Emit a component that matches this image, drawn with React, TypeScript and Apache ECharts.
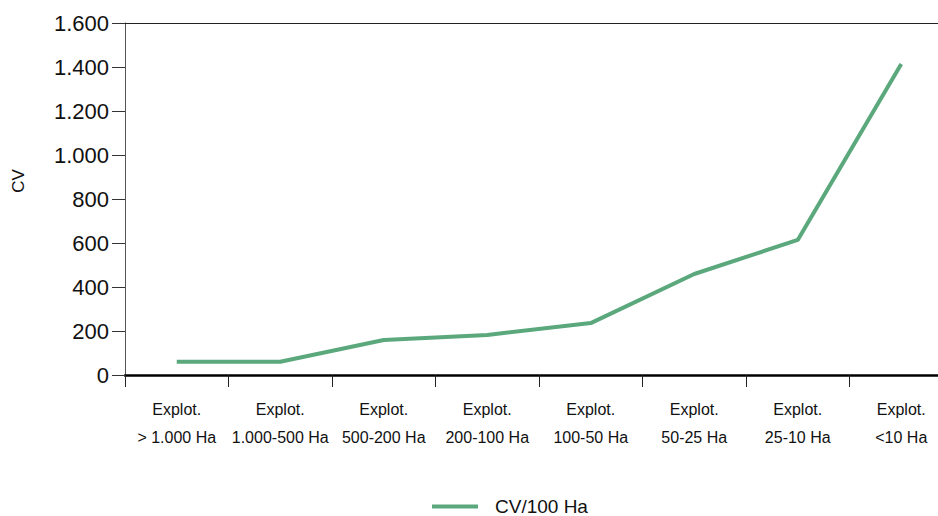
import React, { useEffect, useRef } from "react";
import * as echarts from "echarts";

const categories = [
  "Explot.\n> 1.000 Ha",
  "Explot.\n1.000-500 Ha",
  "Explot.\n500-200 Ha",
  "Explot.\n200-100 Ha",
  "Explot.\n100-50 Ha",
  "Explot.\n50-25 Ha",
  "Explot.\n25-10 Ha",
  "Explot.\n<10 Ha",
];
const seriesName = "CV/100 Ha";
const cvValues = [60, 60, 159, 182, 236, 459, 614, 1414];
const yAxisName = "CV";

const fmt = (v: number) => String(v).replace(/\B(?=(\d{3})+(?!\d))/g, ".");

export default function App() {
  const ref = useRef<HTMLDivElement>(null);
  useEffect(() => {
    if (!ref.current) return;
    const chart = echarts.init(ref.current, undefined, { renderer: "svg" });
    chart.setOption({
      animation: false,
      backgroundColor: "#ffffff",
      textStyle: { fontFamily: "Liberation Sans Narrow, Liberation Sans, Arial, sans-serif" },
      grid: { left: 125, top: 23, bottom: 141, width: 828, outerBoundsMode: "none", containLabel: false },
      legend: {
        top: 497,
        left: 432,
        data: [seriesName],
        icon: "rect",
        itemWidth: 46,
        itemHeight: 4,
        padding: 0,
        textStyle: { fontSize: 19, color: "#111", padding: [0, 0, 0, 12], fontFamily: "Liberation Sans, Arial, sans-serif" },
      },
      xAxis: [
        {
          type: "category",
          data: categories,
          boundaryGap: true,
          axisLine: { lineStyle: { color: "#000", width: 2.5 } },
          axisTick: { show: true, length: 12, lineStyle: { color: "#222", width: 1 } },
          axisLabel: { color: "#111", fontSize: 16, lineHeight: 28, margin: 20, interval: 0 },
        },
        {
          type: "category",
          position: "top",
          data: categories,
          axisLine: { show: true, lineStyle: { color: "#222", width: 1 } },
          axisTick: { show: false },
          axisLabel: { show: false },
        },
      ],
      yAxis: {
        type: "value",
        min: 0,
        max: 1600,
        interval: 200,
        name: yAxisName,
        nameLocation: "middle",
        nameGap: 98,
        nameTextStyle: { fontSize: 17, color: "#111", fontFamily: "Liberation Sans, Arial, sans-serif", padding: [0, 0, 0, 36] },
        axisLine: { show: true, lineStyle: { color: "#555", width: 1 } },
        axisTick: { show: true, length: 13, lineStyle: { color: "#333" } },
        splitLine: { show: false },
        axisLabel: {
          color: "#111",
          fontSize: 22,
          margin: 16,
          fontFamily: "Liberation Sans, Arial, sans-serif",
          formatter: (v: number) => fmt(v),
        },
      },
      series: [
        {
          name: seriesName,
          type: "line",
          data: cvValues,
          symbol: "none",
          lineStyle: { color: "#5aa87c", width: 4 },
          itemStyle: { color: "#5aa87c" },
        },
      ],
    });
    return () => chart.dispose();
  }, []);
  return (
    <div
      ref={ref}
      style={{ position: "fixed", left: 0, top: 0, width: 938, height: 516 }}
    />
  );
}
